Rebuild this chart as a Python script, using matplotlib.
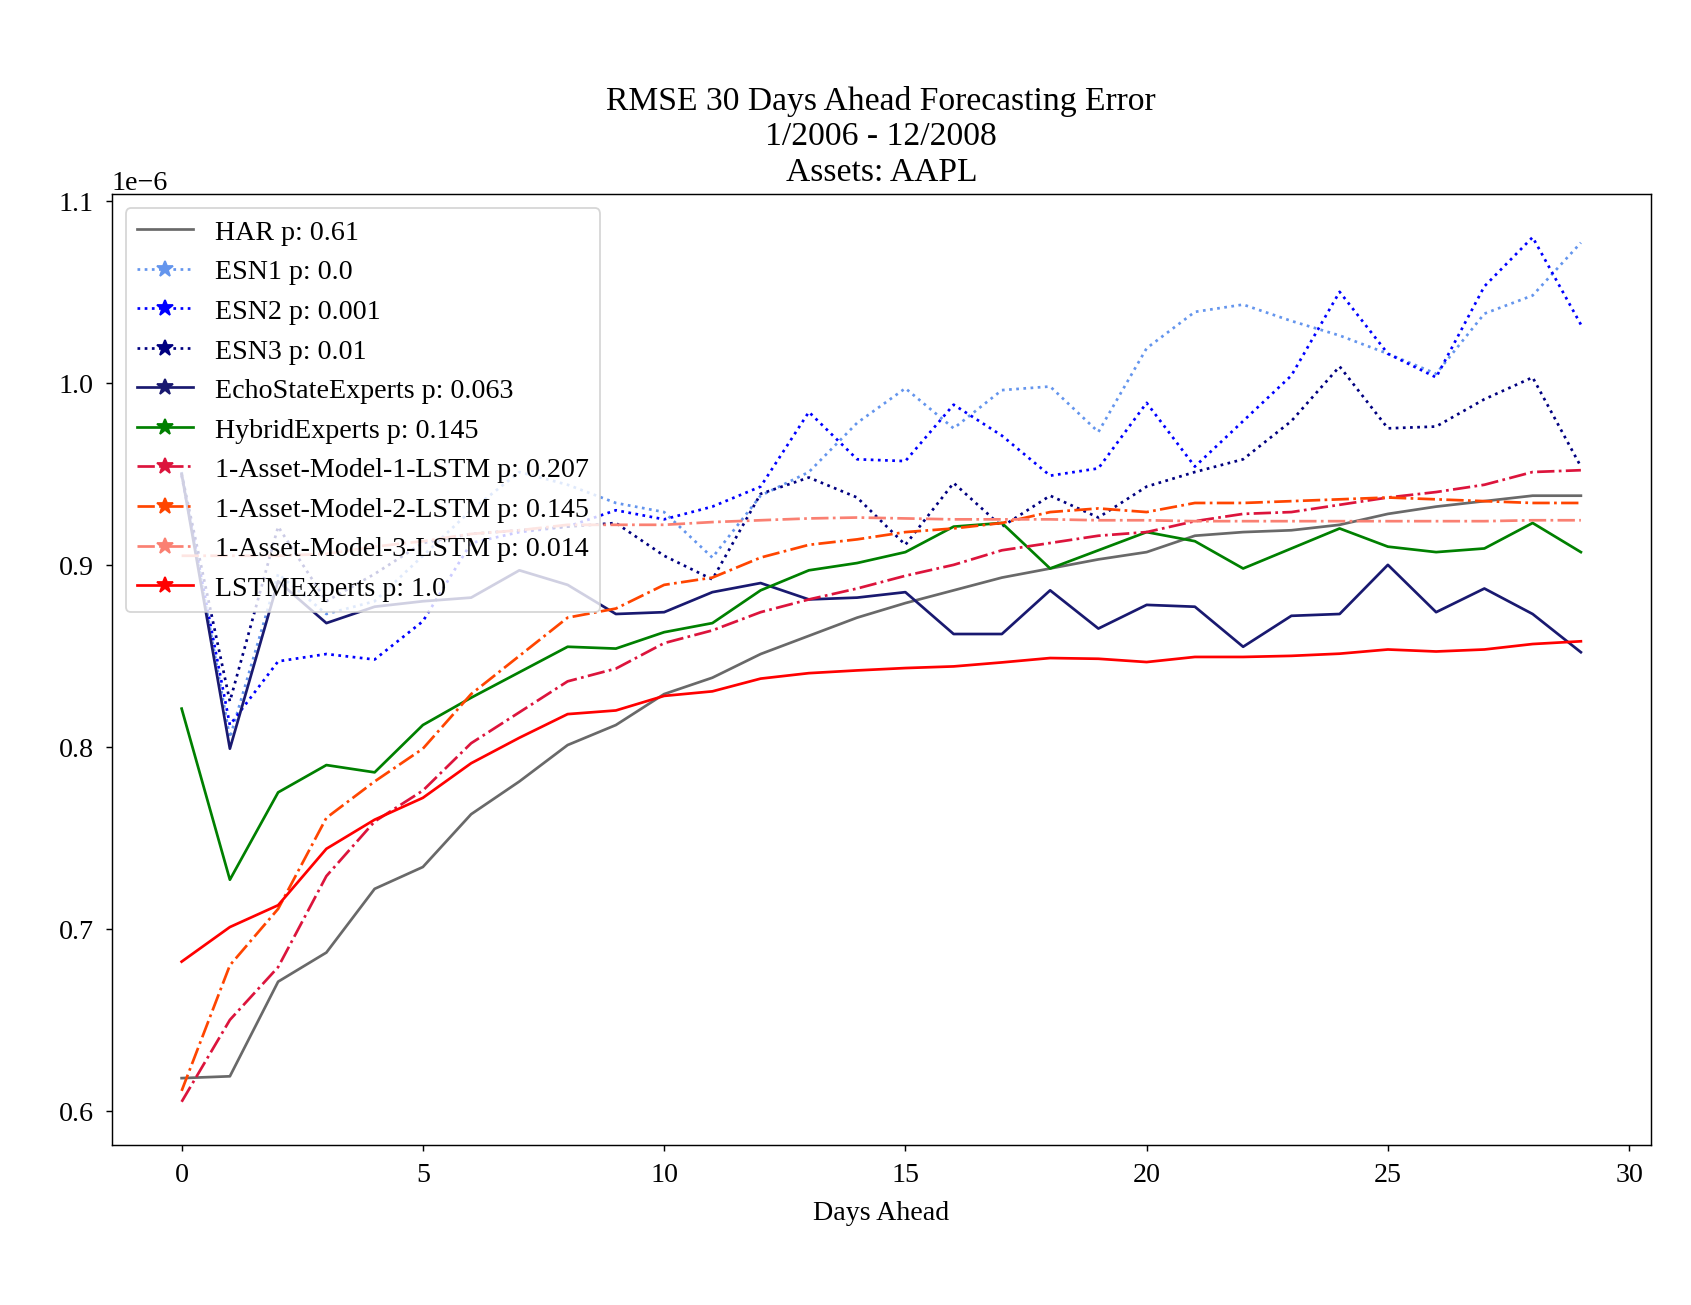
import numpy as np
import matplotlib
matplotlib.use('Agg')
import matplotlib.pyplot as plt
from matplotlib.lines import Line2D

plt.rcParams['font.family'] = ['Liberation Serif', 'DejaVu Serif']
plt.rcParams['font.size'] = 15.5
plt.rcParams['xtick.major.pad'] = 6
plt.rcParams['ytick.major.pad'] = 6.5

# RMSE values (x 1e-6) per forecast horizon
days = list(range(30))

har = [0.618, 0.619, 0.671, 0.687, 0.722, 0.734, 0.763, 0.781, 0.801, 0.812,
       0.829, 0.838, 0.851, 0.861, 0.871, 0.879, 0.886, 0.893, 0.898, 0.903,
       0.907, 0.916, 0.918, 0.919, 0.922, 0.928, 0.932, 0.935, 0.938, 0.938]
esn1 = [0.951, 0.805, 0.895, 0.873, 0.880, 0.905, 0.930, 0.951, 0.944, 0.934,
        0.929, 0.904, 0.938, 0.951, 0.978, 0.997, 0.975, 0.996, 0.998, 0.973,
        1.019, 1.039, 1.043, 1.034, 1.026, 1.016, 1.005, 1.038, 1.048, 1.077]
esn2 = [0.949, 0.812, 0.847, 0.851, 0.848, 0.869, 0.912, 0.918, 0.921, 0.930,
        0.925, 0.932, 0.943, 0.984, 0.958, 0.957, 0.988, 0.971, 0.949, 0.953,
        0.989, 0.954, 0.979, 1.004, 1.050, 1.016, 1.003, 1.053, 1.080, 1.032]
esn3 = [0.950, 0.825, 0.921, 0.880, 0.895, 0.912, 0.917, 0.919, 0.921, 0.923,
        0.905, 0.892, 0.939, 0.948, 0.937, 0.911, 0.945, 0.921, 0.938, 0.926,
        0.943, 0.951, 0.958, 0.979, 1.009, 0.975, 0.976, 0.991, 1.003, 0.954]
echo_state = [0.950, 0.799, 0.891, 0.868, 0.877, 0.880, 0.882, 0.897, 0.889, 0.873,
              0.874, 0.885, 0.890, 0.881, 0.882, 0.885, 0.862, 0.862, 0.886, 0.865,
              0.878, 0.877, 0.855, 0.872, 0.873, 0.900, 0.874, 0.887, 0.873, 0.852]
hybrid = [0.821, 0.727, 0.775, 0.790, 0.786, 0.812, 0.827, 0.841, 0.855, 0.854,
          0.863, 0.868, 0.886, 0.897, 0.901, 0.907, 0.921, 0.923, 0.898, 0.908,
          0.918, 0.913, 0.898, 0.909, 0.920, 0.910, 0.907, 0.909, 0.923, 0.907]
model1 = [0.605, 0.650, 0.679, 0.729, 0.759, 0.776, 0.802, 0.819, 0.836, 0.843,
          0.857, 0.864, 0.874, 0.881, 0.887, 0.894, 0.900, 0.908, 0.912, 0.916,
          0.918, 0.924, 0.928, 0.929, 0.933, 0.937, 0.940, 0.944, 0.951, 0.952]
model2 = [0.611, 0.680, 0.711, 0.761, 0.781, 0.799, 0.829, 0.850, 0.871, 0.876,
          0.889, 0.893, 0.904, 0.911, 0.914, 0.918, 0.920, 0.923, 0.929, 0.931,
          0.929, 0.934, 0.934, 0.935, 0.936, 0.937, 0.936, 0.935, 0.934, 0.934]
model3 = [0.905, 0.905, 0.905, 0.906, 0.910, 0.913, 0.917, 0.919, 0.922, 0.922,
          0.922, 0.9235, 0.9245, 0.9255, 0.926, 0.9255, 0.925, 0.925, 0.925, 0.9245,
          0.9245, 0.924, 0.924, 0.924, 0.924, 0.924, 0.924, 0.924, 0.9245, 0.9245]
lstm_experts = [0.682, 0.701, 0.713, 0.744, 0.760, 0.772, 0.791, 0.805, 0.818, 0.820,
                0.828, 0.8305, 0.8375, 0.8405, 0.842, 0.8433, 0.8442, 0.8464, 0.8488, 0.8484,
                0.8466, 0.8494, 0.8494, 0.850, 0.8512, 0.8535, 0.8524, 0.8535, 0.8565, 0.858]

labels = ['HAR p: 0.61', 'ESN1 p: 0.0', 'ESN2 p: 0.001', 'ESN3 p: 0.01',
          'EchoStateExperts p: 0.063', 'HybridExperts p: 0.145',
          '1-Asset-Model-1-LSTM p: 0.207', '1-Asset-Model-2-LSTM p: 0.145',
          '1-Asset-Model-3-LSTM p: 0.014', 'LSTMExperts p: 1.0']
series = [har, esn1, esn2, esn3, echo_state, hybrid, model1, model2, model3, lstm_experts]
colors = ['dimgray', 'cornflowerblue', 'blue', 'navy', 'midnightblue', 'green',
          'crimson', 'orangered', 'salmon', 'red']
styles = ['-', ':', ':', ':', '-', '-', '-.', '-.', '-.', '-']

fig = plt.figure(figsize=(13.015, 10.046), dpi=130)
ax = fig.add_axes([0.066, 0.1225, 0.9097, 0.7282])

handles = []
for i, vals in enumerate(series):
    y = np.array(vals) * 1e-6
    ax.plot(days, y, color=colors[i], linestyle=styles[i], linewidth=1.5)
    mk = None if i == 0 else '*'
    handles.append(Line2D([], [], color=colors[i], linestyle=styles[i], linewidth=1.5,
                          marker=mk, markersize=9))

ax.set_title('RMSE 30 Days Ahead Forecasting Error\n1/2006 - 12/2008\nAssets: AAPL', pad=8)
ax.set_xlabel('Days Ahead', labelpad=7)
ax.set_xticks([0, 5, 10, 15, 20, 25, 30])
ax.legend(handles, labels, loc='upper left')

fig.savefig('out.png', dpi=130)
